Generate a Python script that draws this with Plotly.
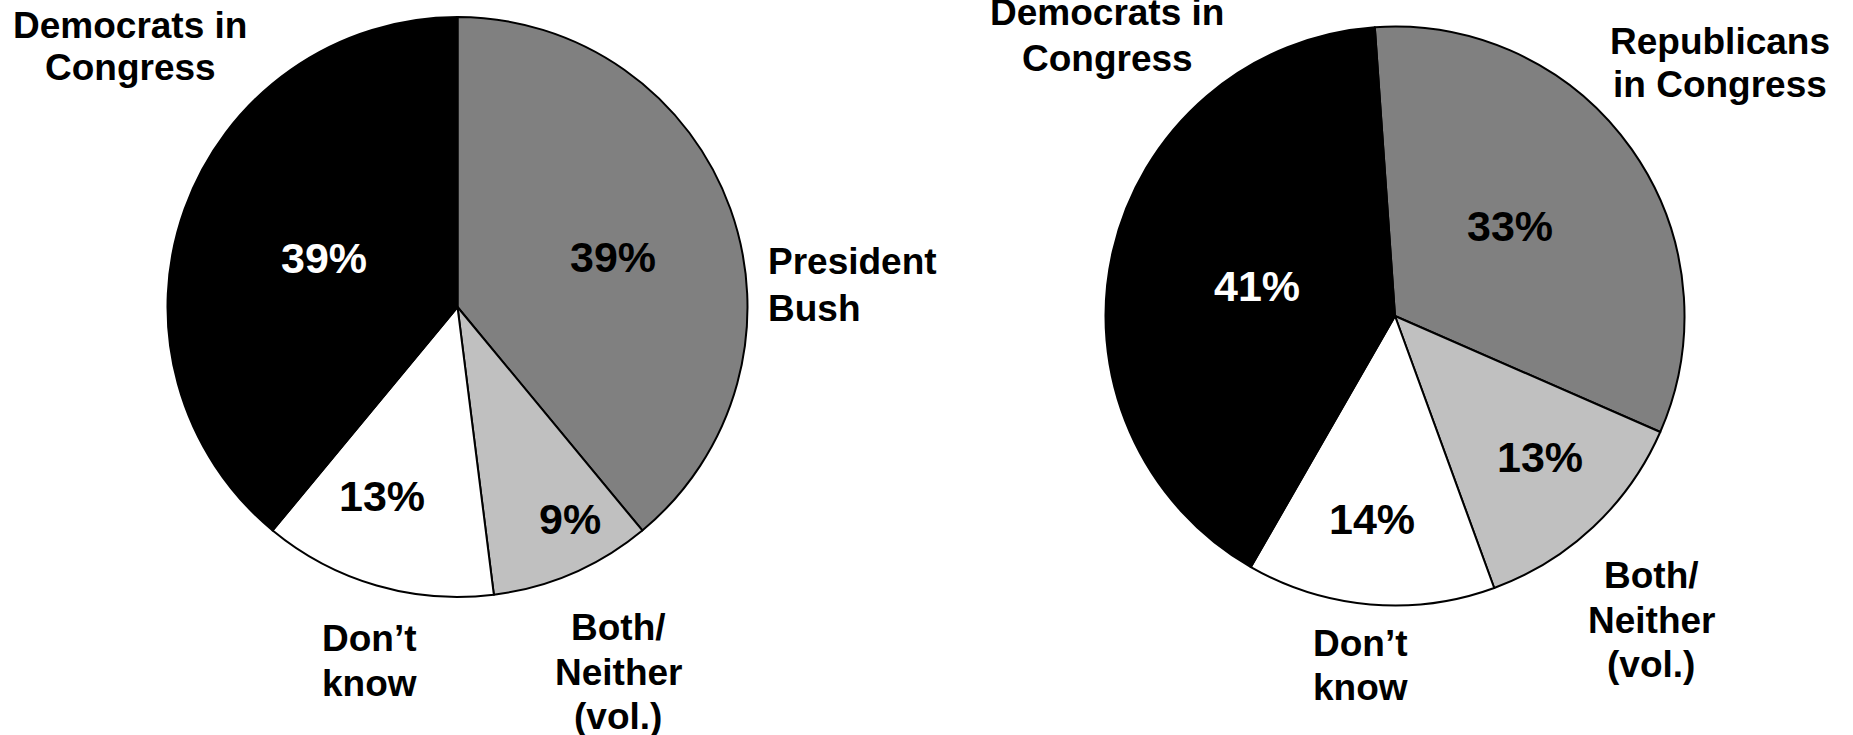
import plotly.graph_objects as go

# Left pie: President Bush vs Democrats in Congress
left_labels = ["President Bush", "Both/Neither (vol.)", "Don\u2019t know", "Democrats in Congress"]
left_values = [39, 9, 13, 39]

# Right pie: Republicans in Congress vs Democrats in Congress
right_labels = ["Republicans in Congress", "Both/Neither (vol.)", "Don\u2019t know", "Democrats in Congress"]
right_values = [33, 13, 14, 41]

slice_colors = ["#808080", "#c0c0c0", "#ffffff", "#000000"]
text_colors = ["#000000", "#000000", "#000000", "#ffffff"]

FONT = "Liberation Sans, Arial, sans-serif"
W, H = 1853, 735

fig = go.Figure()


def add_pie(labels, values, domain_x, domain_y, rotation):
    fig.add_trace(go.Pie(
        labels=labels,
        values=values,
        sort=False,
        direction="clockwise",
        rotation=rotation,
        domain=dict(x=domain_x, y=domain_y),
        marker=dict(colors=slice_colors, line=dict(color="#000000", width=2)),
        textinfo="none",
        hoverinfo="skip",
        showlegend=False,
    ))


add_pie(left_labels, left_values, [0.09039, 0.40340], [0.18776, 0.97687], 0)
add_pie(right_labels, right_values, [0.59660, 0.90907], [0.17619, 0.96395], -4)


def ann(text, xp, yp, size, color="#000000", xa="center"):
    fig.add_annotation(
        x=xp / W, y=1 - yp / H, xref="paper", yref="paper",
        text=text, showarrow=False, xanchor=xa, yanchor="middle",
        font=dict(family=FONT, size=size, color=color, weight="bold"),
    )


# percentage labels inside slices (pixel positions of label centres)
left_pct_pos = [(613, 257), (570, 519), (382, 496), (324, 258)]
right_pct_pos = [(1510, 226), (1540, 457), (1372, 519), (1257, 286)]
for vals, poss in ((left_values, left_pct_pos), (right_values, right_pct_pos)):
    for v, (xp, yp), c in zip(vals, poss, text_colors):
        ann(f"{v}%", xp, yp, 43, c)

# outer category labels, one line at a time: (line, x_px, y_px[, anchor])
label_lines = [
    ("Democrats in", 130, 25), ("Congress", 130, 67),
    ("President", 766, 261, "left"), ("Bush", 766, 308, "left"),
    ("Don\u2019t", 369, 638), ("know", 369, 683),
    ("Both/", 618, 627), ("Neither", 618, 672), ("(vol.)", 618, 716),
    ("Democrats in", 1107, 13), ("Congress", 1107, 58),
    ("Republicans", 1720, 41), ("in Congress", 1720, 84),
    ("Don\u2019t", 1360, 643), ("know", 1360, 687),
    ("Both/", 1651, 575), ("Neither", 1651, 620), ("(vol.)", 1651, 664),
]
for item in label_lines:
    xa = item[3] if len(item) > 3 else "center"
    ann(item[0], item[1], item[2], 37, "#000000", xa)

fig.update_layout(
    width=W, height=H,
    margin=dict(l=0, r=0, t=0, b=0),
    paper_bgcolor="#ffffff",
    plot_bgcolor="#ffffff",
)

fig.write_html(
    "out.html",
    config={"displayModeBar": False},
    post_script="document.body.style.margin='0';document.body.style.overflow='hidden';",
)
